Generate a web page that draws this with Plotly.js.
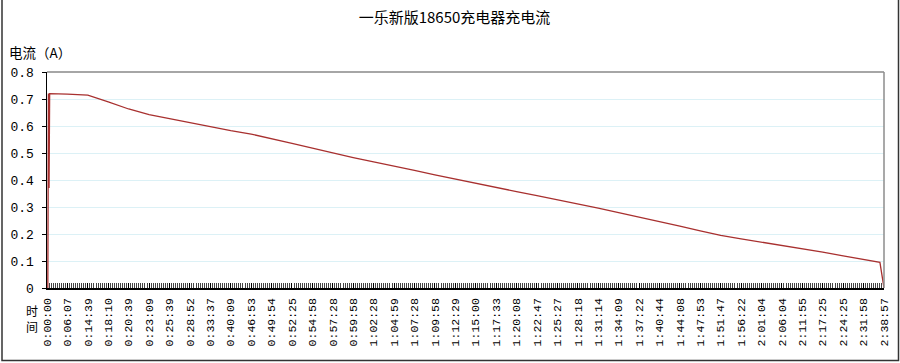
<!DOCTYPE html>
<html>
<head>
<meta charset="utf-8">
<script src="https://cdn.plot.ly/plotly-3.0.1.min.js"></script>
<style>
html,body{margin:0;padding:0;background:#fff;}
#chart{width:900px;height:363px;}
</style>
</head>
<body>
<div id="chart"></div>
<script>
// Category labels (time of reading) shown on the x axis
const timeLabels = [
  "0:00:00","0:06:07","0:14:39","0:18:10","0:20:39","0:23:09","0:25:39","0:28:52",
  "0:33:37","0:40:09","0:46:53","0:49:54","0:52:25","0:54:58","0:57:28","0:59:58",
  "1:02:28","1:04:59","1:07:28","1:09:58","1:12:29","1:15:00","1:17:33","1:20:08",
  "1:22:47","1:25:27","1:28:18","1:31:14","1:34:09","1:37:22","1:40:44","1:44:08",
  "1:47:53","1:51:47","1:56:22","2:01:04","2:06:04","2:11:55","2:17:25","2:24:25",
  "2:31:58","2:38:57"
];

// Reading position along the category axis (in label units) and current in A
const samplePos = [
  0.04, 0.04, 0.07, 0.1, 0.13,
  1, 2, 3, 4, 5, 6, 7, 8, 9, 10,
  11, 12, 13, 14, 15, 16, 17, 18, 19, 20,
  21, 22, 23, 24, 25, 26, 27, 28, 29, 30,
  31, 32, 33, 34, 35, 36, 37, 38, 39, 40,
  40.8, 41
];
const sampleCurrent = [
  0, 0.37, 0.72, 0.37, 0.72,
  0.718, 0.714, 0.689, 0.663, 0.642, 0.627, 0.612, 0.596, 0.583, 0.570,
  0.554, 0.536, 0.518, 0.500, 0.483, 0.467, 0.452, 0.436, 0.419, 0.403,
  0.387, 0.372, 0.357, 0.342, 0.327, 0.311, 0.296, 0.279, 0.263, 0.247,
  0.229, 0.212, 0.195, 0.182, 0.170, 0.158, 0.146, 0.133, 0.119, 0.106,
  0.095, 0
];

const chartTitle = "一乐新版18650充电器充电流";
const yTitle = "电流（A）";
const xTitle = "时<br>间";

const tickIdx = timeLabels.map((_, i) => i);

const trace = {
  type: "scatter",
  mode: "lines",
  x: samplePos,
  y: sampleCurrent,
  line: {color: "#a8302f", width: 1.3},
  hoverinfo: "skip",
  cliponaxis: false
};

const xFont = {family: "Liberation Mono, DejaVu Sans Mono, monospace", size: 11.5, color: "#000"};
const yFont = {family: "Liberation Mono, DejaVu Sans Mono, monospace", size: 13, color: "#000"};
const cjkFont = {family: "Noto Sans CJK SC, sans-serif", size: 13.5, color: "#000"};

const layout = {
  width: 900,
  height: 363,
  paper_bgcolor: "#fff",
  plot_bgcolor: "#fff",
  margin: {l: 47, r: 16, t: 72, b: 75},
  showlegend: false,
  title: {
    text: chartTitle,
    font: {family: "Noto Sans CJK SC, sans-serif", size: 15, color: "#000"},
    x: 0.505, xanchor: "center",
    y: 0.95, yanchor: "middle"
  },
  xaxis: {
    type: "linear",
    range: [0, 41],
    tickmode: "array",
    tickvals: tickIdx,
    ticktext: timeLabels,
    tickangle: -90,
    tickfont: xFont,
    ticks: "inside",
    ticklen: 5,
    tickcolor: "#000",
    ticklabelstandoff: 4,
    minor: {tickmode: "linear", tick0: 0, dtick: 0.1, ticks: "inside", ticklen: 5, tickcolor: "#444", tickwidth: 1},
    showgrid: false,
    zeroline: false,
    showline: true,
    linecolor: "#000",
    linewidth: 1.5,
    fixedrange: true
  },
  yaxis: {
    range: [0, 0.8],
    dtick: 0.1,
    tick0: 0,
    tickfont: yFont,
    ticks: "outside",
    ticklen: 4,
    tickcolor: "#000",
    ticklabelstandoff: 5,
    showgrid: true,
    gridcolor: "#dcf1f6",
    gridwidth: 1,
    zeroline: false,
    showline: true,
    linecolor: "#000",
    linewidth: 1.5,
    fixedrange: true
  },
  shapes: [
    {type: "line", xref: "paper", yref: "paper", x0: 0, x1: 1, y0: 1, y1: 1,
     line: {color: "#a6a6a6", width: 2}},
    {type: "line", xref: "paper", yref: "paper", x0: 1, x1: 1, y0: 0, y1: 1,
     line: {color: "#8c8c8c", width: 1.5}},
    {type: "rect", xref: "paper", yref: "paper",
     x0: (2 - 47) / 837, x1: (898.5 - 47) / 837,
     y0: (288 - 360.5) / 216, y1: (288 - (-2)) / 216,
     line: {color: "#333", width: 1.5}, fillcolor: "rgba(0,0,0,0)"}
  ],
  annotations: [
    {text: yTitle, xref: "paper", yref: "paper", x: (7 - 47) / 837, xanchor: "left",
     y: (288 - 52) / 216, yanchor: "middle", showarrow: false, font: cjkFont},
    {text: xTitle, xref: "paper", yref: "paper", x: (32 - 47) / 837, xanchor: "center",
     y: (288 - 318) / 216, yanchor: "middle", showarrow: false,
     font: {family: "Noto Sans CJK SC, sans-serif", size: 12, color: "#000"}}
  ]
};

Plotly.newPlot("chart", [trace], layout, {staticPlot: true, displayModeBar: false});
</script>
</body>
</html>
